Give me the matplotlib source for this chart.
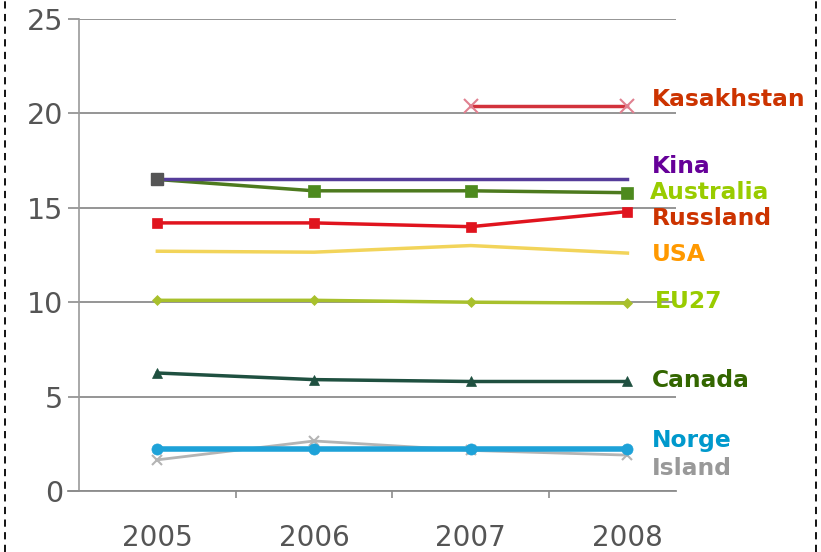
import numpy as np
import matplotlib
matplotlib.use("Agg")
import matplotlib.pyplot as plt
from matplotlib.lines import Line2D

years = ["2005", "2006", "2007", "2008"]
nan = np.nan
kasakhstan = [nan, nan, 20.4, 20.4]
kina = [16.5, 16.5, 16.5, 16.5]
australia = [16.5, 15.9, 15.9, 15.8]
russland = [14.2, 14.2, 14.0, 14.8]
usa = [12.7, 12.65, 13.0, 12.6]
eu27 = [10.1, 10.1, 10.0, 9.95]
canada = [6.25, 5.9, 5.8, 5.8]
norge = [2.2, 2.2, 2.2, 2.2]
island = [1.65, 2.65, 2.15, 1.9]
y_ticks = [0, 5, 10, 15, 20, 25]

fig = plt.figure(figsize=(8.21, 5.52), dpi=100)
ax = fig.add_axes([79/821, 1-491/552, (676-79)/821, (491-19)/552])
x = np.arange(len(years))

series = [
    (island, "#b4b4b4", "x", "#b4b4b4", 7, 2.0),
    (norge, "#1ea2d8", "o", "#1ea2d8", 8, 4.0),
    (canada, "#1f5040", "^", "#1f5040", 7.5, 2.5),
    (eu27, "#a8c02c", "D", "#a8c02c", 5.5, 2.5),
    (usa, "#f2d45a", None, None, 0, 2.5),
    (russland, "#e0141e", "s", "#e0141e", 7, 2.5),
    (australia, "#4d7a1e", "s", "#4d8a1e", 9, 2.5),
    (kina, "#553c9a", "s", "#555555", 0, 2.5),
    (kasakhstan, "#d2323c", "x", "#e08090", 10, 2.5),
]
for vals, col, mk, mfc, ms, lw in series:
    ax.plot(x, vals, color=col, lw=lw, marker=mk, markersize=ms,
            markerfacecolor=mfc, markeredgecolor=mfc if mfc else col,
            markeredgewidth=1.5 if mk == "x" else 0.5, zorder=3)
ax.plot(x[:1], [kina[0]], marker="s", markersize=9, color="#555555", lw=0, zorder=4)

labels = [
    ("Kasakhstan", "#cc3300", 20.75, 652),
    ("Kina", "#660099", 17.2, 652),
    ("Australia", "#99cc00", 15.83, 650),
    ("Russland", "#cc3300", 14.45, 652),
    ("USA", "#ff9900", 12.55, 652),
    ("EU27", "#99cc00", 10.06, 655),
    ("Canada", "#336600", 5.87, 652),
    ("Norge", "#0099cc", 2.65, 652),
    ("Island", "#999999", 1.17, 652),
]
for txt, col, yv, px in labels:
    xd = (px - 158) / 156.5
    ax.text(xd, yv, txt, color=col, fontsize=16.8, fontweight="bold",
            va="center", ha="left", clip_on=False, family="DejaVu Sans")

ax.set_xlim(-0.5, (676 - 158) / 156.5)
ax.set_ylim(0, 25)
ax.set_yticks(y_ticks)
ax.set_yticklabels([str(t) for t in y_ticks])
ax.grid(axis="y", color="#8c8c8c", lw=1.3)
ax.set_axisbelow(True)
for s in ["top", "right"]:
    ax.spines[s].set_visible(False)
ax.spines["left"].set_color("#9a9a9a")
ax.spines["bottom"].set_color("#8c8c8c")
ax.spines["left"].set_linewidth(1.2)
ax.spines["bottom"].set_linewidth(1.3)
ax.spines["bottom"].set_bounds(-0.57, ax.get_xlim()[1])
ax.set_xticks(x)
ax.set_xticklabels(years)
ax.set_xticks([0.5, 1.5, 2.5], minor=True)
ax.tick_params(axis="x", which="major", length=0, pad=23.5, labelsize=20, labelcolor="#555555")
ax.tick_params(axis="x", which="minor", length=5, color="#8c8c8c", width=1.2)
ax.tick_params(axis="y", length=8, color="#8c8c8c", width=1.2, pad=3.5, labelsize=20.5, labelcolor="#555555")

for xp in [5/821, 816/821]:
    fig.add_artist(Line2D([xp, xp], [0, 1], transform=fig.transFigure, color="black",
                          lw=1.3, ls=(0, (4, 3))))

fig.savefig("out.png", dpi=100)
